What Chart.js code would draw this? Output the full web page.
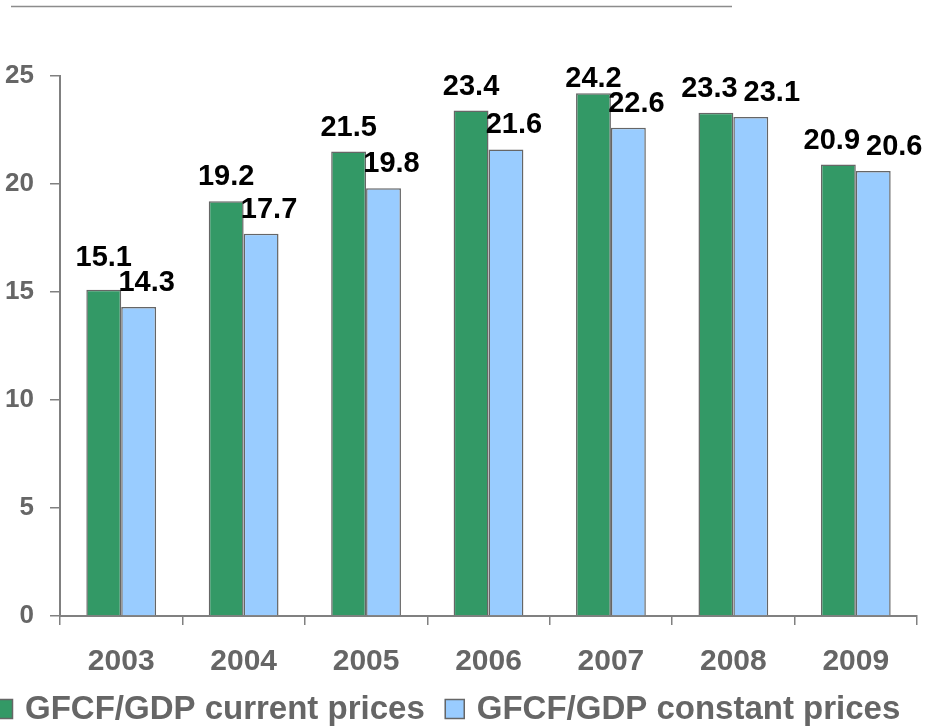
<!DOCTYPE html>
<html>
<head>
<meta charset="utf-8">
<script src="https://cdn.jsdelivr.net/npm/chart.js@4"></script>
<style>
  html, body { margin: 0; padding: 0; background: #fff; }
  #wrap { width: 934px; height: 728px; }
</style>
</head>
<body>
<div id="wrap"><canvas id="c" width="934" height="728"></canvas></div>
<script>
// values
const years = ['2003', '2004', '2005', '2006', '2007', '2008', '2009'];
const currentPrices = [15.1, 19.2, 21.5, 23.4, 24.2, 23.3, 20.9];
const constantPrices = [14.3, 17.7, 19.8, 21.6, 22.6, 23.1, 20.6];
const seriesNames = ['GFCF/GDP current prices', 'GFCF/GDP constant prices'];

const FONT = '"Liberation Sans", Arial, sans-serif';
const GREY = '#666666';

// thin rule at the very top of the slide
const topRule = {
  id: 'topRule',
  beforeDraw(chart) {
    const ctx = chart.ctx;
    ctx.save();
    ctx.strokeStyle = '#8c8c8c';
    ctx.lineWidth = 1.5;
    ctx.beginPath();
    ctx.moveTo(11, 6.5);
    ctx.lineTo(732, 6.5);
    ctx.stroke();
    ctx.restore();
  }
};

// value labels above each bar, nudged apart when the pair would collide
const valueLabels = {
  id: 'valueLabels',
  afterDatasetsDraw(chart) {
    const ctx = chart.ctx;
    ctx.save();
    ctx.font = 'bold 29px ' + FONT;
    ctx.fillStyle = '#000';
    ctx.textAlign = 'center';
    ctx.textBaseline = 'alphabetic';
    const capH = 21;
    const minBase = chart.chartArea.top + 11;
    const a = chart.getDatasetMeta(0).data;
    const b = chart.getDatasetMeta(1).data;
    const da = chart.data.datasets[0].data;
    const db = chart.data.datasets[1].data;
    a.forEach((barA, j) => {
      const barB = b[j];
      const tA = da[j].toFixed(1), tB = db[j].toFixed(1);
      const wA = ctx.measureText(tA).width, wB = ctx.measureText(tB).width;
      let xA = barA.x, xB = barB.x + 8;
      let yA = Math.max(barA.y - 16, minBase);
      const yB = Math.max(barB.y - 16, minBase);
      const dy = Math.abs(yA - yB);
      const need = (wA + wB) / 2 + 6 - (xB - xA);
      if (dy < capH + 4 && need > 0) {
        if (dy > 10 && yA < yB) {
          // taller green bar: lift its label clear of the blue one
          yA = yB - capH - 4;
        } else {
          xA -= need / 3;
          xB += need * 2 / 3;
        }
      }
      ctx.fillText(tA, xA, yA);
      ctx.fillText(tB, xB, yB);
    });
    ctx.restore();
  }
};

// legend row along the bottom edge (starts slightly off canvas like the original)
const bottomLegend = {
  id: 'bottomLegend',
  afterDraw(chart) {
    const ctx = chart.ctx;
    ctx.save();
    ctx.font = 'bold 33px ' + FONT;
    ctx.textBaseline = 'middle';
    ctx.textAlign = 'left';
    let x = -7;
    const yMid = 709;
    chart.data.datasets.forEach((ds) => {
      ctx.fillStyle = ds.backgroundColor;
      ctx.fillRect(x, yMid - 10, 20, 20);
      ctx.strokeStyle = '#666';
      ctx.lineWidth = 1.5;
      ctx.strokeRect(x + 0.5, yMid - 9.5, 19, 19);
      x += 32;
      ctx.fillStyle = GREY;
      ctx.fillText(ds.label, x, yMid + 1);
      x += ctx.measureText(ds.label).width + 20;
    });
    ctx.restore();
  }
};

new Chart(document.getElementById('c'), {
  type: 'bar',
  data: {
    labels: years,
    datasets: [
      {
        label: seriesNames[0],
        data: currentPrices,
        backgroundColor: '#339966',
        borderColor: '#666666',
        borderWidth: 1.5
      },
      {
        label: seriesNames[1],
        data: constantPrices,
        backgroundColor: '#99ccff',
        borderColor: '#666666',
        borderWidth: 1.5
      }
    ]
  },
  plugins: [topRule, valueLabels, bottomLegend],
  options: {
    responsive: false,
    animation: false,
    layout: { padding: { top: 76, right: 17, bottom: 0, left: 0 } },
    datasets: {
      bar: { categoryPercentage: 0.57, barPercentage: 1.0 }
    },
    plugins: {
      legend: { display: false },
      tooltip: { enabled: false }
    },
    scales: {
      x: {
        afterFit: (scale) => { scale.height = 112; },
        grid: {
          drawOnChartArea: false,
          color: '#808080',
          lineWidth: 1.5,
          tickLength: 9,
          offset: true
        },
        border: { color: '#808080', width: 2 },
        ticks: {
          color: GREY,
          padding: 19,
          font: { family: FONT, size: 30, weight: 'bold' }
        }
      },
      y: {
        min: 0,
        max: 25,
        afterFit: (scale) => { scale.width = 60; },
        grid: {
          drawOnChartArea: false,
          color: '#808080',
          lineWidth: 1.5,
          tickLength: 10
        },
        border: { color: '#808080', width: 2 },
        ticks: {
          stepSize: 5,
          color: GREY,
          padding: 16,
          font: { family: FONT, size: 26, weight: 'bold' }
        }
      }
    }
  }
});
</script>
</body>
</html>
